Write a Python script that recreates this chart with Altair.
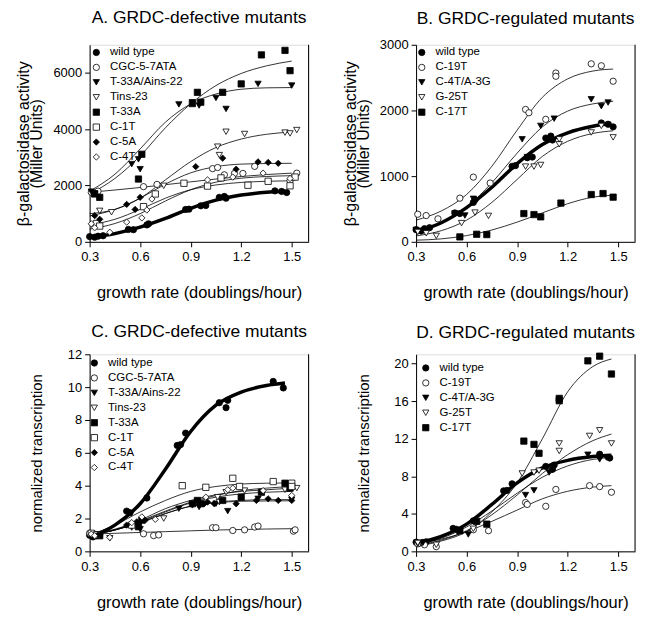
import altair as alt
import pandas as pd

FONT = "Liberation Sans"
W, H = 220, 198

# ---------- shared x grids for the fitted curves ----------
GRID = [0.3, 0.45, 0.6, 0.75, 0.9, 1.05, 1.2, 1.35, 1.5]
WT_GRID = [0.3, 0.45, 0.6, 0.75, 0.9, 1.05, 1.2, 1.35, 1.46]
B_GRID = [0.3, 0.45, 0.6, 0.75, 0.9, 1.05, 1.2, 1.35, 1.47]
D_GRID = [0.3, 0.45, 0.6, 0.75, 0.9, 1.05, 1.2, 1.35, 1.46]

# ---------- wild type (Miller units), panels A and B ----------
WT_MU_X = [0.30, 0.33, 0.35, 0.38, 0.53, 0.56, 0.64, 0.65, 0.87, 0.89, 0.96, 0.99, 1.07, 1.10, 1.11, 1.40, 1.44, 1.47]
WT_MU_Y = [185, 165, 200, 215, 440, 430, 600, 640, 1150, 1160, 1280, 1290, 1580, 1610, 1550, 1810, 1790, 1750]
WT_MU_CURVE = [150, 290, 520, 830, 1190, 1480, 1660, 1760, 1800]

# ---------- wild type (normalized), panels C and D ----------
WT_NT_X = [0.30, 0.32, 0.34, 0.36, 0.52, 0.54, 0.64, 0.82, 0.84, 0.87, 1.07, 1.11, 1.12, 1.39, 1.45]
WT_NT_Y = [0.98, 0.88, 0.95, 1.02, 2.45, 2.35, 3.25, 6.45, 6.5, 7.2, 9.05, 8.75, 9.2, 10.35, 9.95]
WT_NT_CURVE = [0.85, 1.6, 2.9, 5.0, 7.3, 8.9, 9.7, 10.1, 10.25]

# ---------- panel A ----------
A_SERIES = ["wild type", "CGC-5-7ATA", "T-33A/Ains-22", "Tins-23", "T-33A", "C-1T", "C-5A", "C-4T"]
A_PTS_X = {
    "CGC-5-7ATA": [0.31, 0.35, 0.62, 0.70, 1.03, 1.06, 1.10, 1.16, 1.21, 1.28, 1.49, 1.51, 1.53],
    "T-33A/Ains-22": [0.31, 0.33, 0.55, 0.59, 0.60, 0.83, 0.91, 0.95, 1.05, 1.11, 1.30, 1.50],
    "Tins-23": [0.36, 0.43, 0.74, 1.06, 1.07, 1.11, 1.22, 1.46, 1.49, 1.53],
    "T-33A": [0.33, 0.36, 0.59, 0.61, 0.91, 0.94, 0.96, 1.09, 1.20, 1.32, 1.46, 1.49],
    "C-1T": [0.34, 0.36, 0.62, 0.69, 0.86, 1.00, 1.08, 1.24, 1.36, 1.49, 1.52],
    "C-5A": [0.33, 0.36, 0.52, 0.57, 0.60, 0.93, 1.09, 1.17, 1.30, 1.36, 1.42],
    "C-4T": [0.31, 0.33, 0.42, 0.52, 0.61, 0.64, 0.67, 1.00, 1.15, 1.33, 1.49],
}
A_PTS_Y = {
    "CGC-5-7ATA": [1760, 1800, 1960, 2040, 2600, 2640, 2380, 2430, 2430, 2680, 2170, 2290, 2440],
    "T-33A/Ains-22": [1780, 1720, 2760, 2930, 2580, 4880, 4960, 4840, 5110, 4720, 5610, 5550],
    "Tins-23": [1100, 1050, 1990, 3380, 3080, 3910, 3830, 3880, 3850, 3970],
    "T-33A": [1700, 1580, 2230, 3110, 4910, 5310, 4960, 5310, 5610, 6640, 6800, 6080],
    "C-1T": [650, 560, 1250, 1700, 2080, 1980, 2270, 2010, 2150, 1990, 2300],
    "C-5A": [930, 800, 1330, 1150, 1580, 2670, 2970, 2580, 2840, 2820, 2790],
    "C-4T": [640, 500, 340, 700, 850, 1130, 1520, 2200, 2300, 2440, 2250],
}
A_CURVES = {
    "CGC-5-7ATA": [1760, 1840, 1930, 2030, 2130, 2230, 2320, 2390, 2440],
    "T-33A/Ains-22": [1800, 2400, 3300, 4250, 4900, 5250, 5420, 5470, 5480],
    "Tins-23": [1000, 1150, 1550, 2200, 2850, 3350, 3650, 3820, 3900],
    "T-33A": [1700, 2250, 3050, 4050, 4900, 5550, 5980, 6250, 6420],
    "C-1T": [600, 800, 1150, 1550, 1850, 2020, 2110, 2150, 2170],
    "C-5A": [920, 1150, 1550, 2050, 2450, 2670, 2760, 2780, 2790],
    "C-4T": [450, 650, 1000, 1450, 1850, 2120, 2260, 2320, 2350],
}

# ---------- panel B ----------
B_SERIES = ["wild type", "C-19T", "C-4T/A-3G", "G-25T", "C-17T"]
B_PTS_X = {
    "C-19T": [0.31, 0.36, 0.43, 0.56, 0.64, 0.74, 0.95, 0.97, 1.07, 1.13, 1.13, 1.34, 1.40, 1.47],
    "C-4T/A-3G": [0.30, 0.33, 0.53, 0.59, 0.64, 0.93, 0.96, 1.04, 1.12, 1.34, 1.40, 1.44],
    "G-25T": [0.31, 0.36, 0.42, 0.57, 0.65, 0.73, 0.95, 1.00, 1.04, 1.15, 1.15, 1.34, 1.40, 1.47],
    "C-17T": [0.56, 0.66, 0.72, 0.94, 1.00, 1.04, 1.16, 1.34, 1.41, 1.47],
}
B_PTS_Y = {
    "C-19T": [420, 400, 350, 665, 985, 895, 2015, 1965, 1865, 2570, 2520, 2710, 2680, 2445],
    "C-4T/A-3G": [180, 160, 430, 400, 655, 1560, 1290, 1765, 1875, 2170, 2065, 2120],
    "G-25T": [150, 130, 90, 285, 445, 395, 1145, 1145, 1170, 1485, 1560, 1665, 1765, 1590],
    "C-17T": [75, 115, 110, 430, 415, 380, 590, 720, 735, 680],
}
B_CURVES = {
    "C-19T": [330, 470, 720, 1150, 1700, 2200, 2480, 2600, 2630],
    "C-4T/A-3G": [170, 290, 530, 900, 1350, 1750, 1990, 2100, 2140],
    "G-25T": [90, 170, 330, 600, 950, 1300, 1530, 1650, 1690],
    "C-17T": [25, 45, 95, 180, 300, 440, 580, 680, 710],
}

# ---------- panel C ----------
C_SERIES = A_SERIES
C_PTS_X = {
    "CGC-5-7ATA": [0.30, 0.33, 0.62, 0.68, 0.71, 1.03, 1.05, 1.15, 1.22, 1.28, 1.30, 1.51, 1.52],
    "T-33A/Ains-22": [0.31, 0.34, 0.55, 0.59, 0.60, 0.83, 0.91, 0.95, 1.05, 1.12, 1.30, 1.50],
    "Tins-23": [0.34, 0.42, 0.74, 1.06, 1.07, 1.11, 1.22, 1.46, 1.49, 1.53],
    "T-33A": [0.33, 0.36, 0.59, 0.61, 0.91, 0.94, 0.96, 1.09, 1.20, 1.32, 1.46, 1.49],
    "C-1T": [0.31, 0.34, 0.55, 0.85, 0.99, 1.15, 1.19, 1.39, 1.50, 1.50],
    "C-5A": [0.32, 0.35, 0.52, 0.58, 0.63, 0.98, 1.00, 1.04, 1.17, 1.29, 1.36, 1.42, 1.50],
    "C-4T": [0.31, 0.33, 0.42, 0.55, 0.61, 0.69, 0.99, 1.12, 1.15, 1.33, 1.50],
}
C_PTS_Y = {
    "CGC-5-7ATA": [1.1, 1.05, 1.07, 0.96, 1.0, 1.44, 1.44, 1.27, 1.31, 1.48, 1.54, 1.23, 1.31],
    "T-33A/Ains-22": [0.9, 1.0, 1.45, 1.55, 1.35, 2.6, 2.8, 2.7, 2.9, 2.45, 3.2, 3.15],
    "Tins-23": [1.0, 0.8, 2.0, 3.3, 3.0, 3.6, 3.7, 3.75, 3.8, 3.85],
    "T-33A": [1.0, 0.95, 1.5, 1.9, 2.9, 3.1, 2.9, 3.1, 3.3, 3.6, 4.15, 3.85],
    "C-1T": [1.1, 1.0, 1.6, 4.0, 3.9, 4.45, 3.95, 4.25, 4.15, 3.95],
    "C-5A": [0.95, 1.0, 1.6, 1.8, 1.9, 2.9, 3.0, 2.9, 2.9, 3.1, 3.2, 3.1, 3.1],
    "C-4T": [1.05, 0.95, 0.85, 1.75, 2.1, 1.95, 3.3, 3.75, 3.85, 3.7, 3.4],
}
C_CURVES = {
    "C-1T": [1.0, 1.6, 2.4, 3.1, 3.65, 3.95, 4.1, 4.15, 4.17],
    "Tins-23": [1.0, 1.3, 1.9, 2.6, 3.1, 3.45, 3.65, 3.75, 3.85],
    "T-33A": [1.0, 1.35, 1.85, 2.45, 3.0, 3.4, 3.7, 3.85, 3.95],
    "C-4T": [1.0, 1.3, 1.8, 2.4, 2.95, 3.3, 3.5, 3.6, 3.65],
    "T-33A/Ains-22": [1.0, 1.3, 1.75, 2.3, 2.75, 3.0, 3.1, 3.15, 3.15],
    "C-5A": [1.0, 1.3, 1.75, 2.3, 2.75, 2.95, 3.05, 3.07, 3.08],
    "CGC-5-7ATA": [1.05, 1.1, 1.15, 1.2, 1.25, 1.3, 1.33, 1.36, 1.38],
}

# ---------- panel D ----------
D_SERIES = B_SERIES
D_PTS_X = {
    "C-19T": [0.31, 0.35, 0.42, 0.64, 0.73, 0.95, 0.96, 1.07, 1.13, 1.33, 1.39, 1.46],
    "C-4T/A-3G": [0.31, 0.34, 0.61, 0.95, 1.00, 1.09, 1.12, 1.32, 1.39, 1.43],
    "G-25T": [0.31, 0.42, 0.64, 0.93, 1.00, 1.03, 1.15, 1.15, 1.33, 1.39, 1.46],
    "C-17T": [0.56, 0.66, 0.72, 0.94, 1.00, 1.03, 1.15, 1.15, 1.32, 1.39, 1.46],
}
D_PTS_Y = {
    "C-19T": [0.8, 0.7, 0.5, 2.3, 2.2, 5.2, 5.0, 4.8, 6.6, 7.0, 6.9, 6.3],
    "C-4T/A-3G": [0.8, 0.9, 1.8, 6.0, 6.5, 8.4, 9.1, 10.3, 9.8, 10.0],
    "G-25T": [0.9, 0.7, 2.4, 8.3, 8.4, 8.6, 11.5, 10.7, 12.3, 12.9, 11.5],
    "C-17T": [2.2, 3.2, 2.9, 11.75, 11.4, 10.45, 16.3, 16.05, 20.3, 20.8, 18.9],
}
D_CURVES = {
    "C-19T": [0.8, 1.3, 2.1, 3.2, 4.4, 5.6, 6.4, 6.85, 7.0],
    "C-4T/A-3G": [0.75, 1.4, 2.6, 4.3, 6.2, 7.9, 9.1, 9.8, 10.0],
    "G-25T": [0.65, 1.2, 2.2, 3.9, 6.0, 8.3, 10.3, 11.8, 12.5],
    "C-17T": [0.55, 1.1, 2.1, 4.2, 7.3, 12.0, 17.0, 19.7, 20.5],
}

SHAPES8 = ["circle", "circle", "triangle-down", "triangle-down", "square", "square", "diamond", "diamond"]
FILLS8 = ["black", "white", "black", "white", "black", "white", "black", "white"]
SHAPES5 = SHAPES8[:5]
FILLS5 = FILLS8[:5]

X_TICKS = [0.3, 0.6, 0.9, 1.2, 1.5]
MU_TITLE = ["β-galactosidase activity", "(Miller Units)"]
NT_TITLE = ["", "normalized transcription"]


def panel(title, series, shapes, fills, pts_x, pts_y, curves, grid,
          wt_x, wt_y, wt_curve, ydom, yticks, ytitle, ytitle_size,
          leg_x, leg_y, title_offset):
    prow, crow = [], []
    for xv, yv in zip(wt_x, wt_y):
        prow.append({"x": xv, "y": yv, "s": "wild type"})
    for s in series[1:]:
        for xv, yv in zip(pts_x[s], pts_y[s]):
            prow.append({"x": xv, "y": yv, "s": s})
        for xv, yv in zip(grid, curves[s]):
            crow.append({"x": xv, "y": yv, "s": s})
    wrow = [{"x": xv, "y": yv} for xv, yv in zip(WT_GRID, wt_curve)]
    pts = pd.DataFrame(prow)
    cur = pd.DataFrame(crow)
    wtc = pd.DataFrame(wrow)

    xs = alt.Scale(domain=[0.3, 1.6], nice=False, zero=False)
    ys = alt.Scale(domain=ydom, nice=False, zero=True)
    xax = alt.Axis(values=X_TICKS, tickCount=len(X_TICKS), format=".1f",
                   title="growth rate (doublings/hour)",
                   grid=False, tickSize=5, labelPadding=4, labelFontSize=13,
                   titleFontSize=16.5, titleFontWeight="normal", titlePadding=21,
                   minExtent=22, maxExtent=22, domainColor="black", tickColor="black",
                   labelColor="black", titleColor="black", labelFont=FONT, titleFont=FONT,
                   labelFlush=False, labelOverlap=False)
    yax = alt.Axis(values=yticks, tickCount=len(yticks), format="d", title=ytitle,
                   grid=False, tickSize=5,
                   labelPadding=3, labelFontSize=13, titleFontSize=ytitle_size,
                   titleLineHeight=13, titleFontWeight="normal", titlePadding=7,
                   minExtent=38, maxExtent=38, domainColor="black", tickColor="black",
                   labelColor="black", titleColor="black", labelFont=FONT, titleFont=FONT,
                   labelOverlap=False)

    legend = alt.Legend(title=None, orient="none", legendX=leg_x, legendY=leg_y,
                        labelFontSize=11.5, labelFont=FONT, labelColor="black",
                        symbolSize=40, symbolStrokeColor="black", symbolStrokeWidth=0.8,
                        rowPadding=2, labelOffset=8, padding=0)

    border = alt.Chart(pd.DataFrame({"k": [0]})).mark_rule(color="black", strokeWidth=1).encode(
        x=alt.value(W), y=alt.value(0), y2=alt.value(H))

    thin = alt.Chart(cur).mark_line(color="black", strokeWidth=0.8, interpolate="monotone").encode(
        x=alt.X("x:Q", scale=xs, axis=xax),
        y=alt.Y("y:Q", scale=ys, axis=yax),
        detail="s:N",
    )
    thick = alt.Chart(wtc).mark_line(color="black", strokeWidth=3.5, interpolate="monotone").encode(
        x=alt.X("x:Q", scale=xs), y=alt.Y("y:Q", scale=ys))

    points = alt.Chart(pts).mark_point(filled=True, strokeWidth=0.8, size=40, opacity=1).encode(
        x=alt.X("x:Q", scale=xs),
        y=alt.Y("y:Q", scale=ys),
        shape=alt.Shape("s:N", scale=alt.Scale(domain=series, range=shapes), legend=legend),
        fill=alt.Fill("s:N", scale=alt.Scale(domain=series, range=fills), legend=legend),
        stroke=alt.Stroke("s:N", scale=alt.Scale(domain=series, range=["black"] * len(series)),
                          legend=legend),
    )

    return alt.layer(border, thin, thick, points).properties(
        width=W, height=H,
        title=alt.TitleParams(title, fontSize=17.5, font=FONT, fontWeight="normal",
                              color="black", anchor="middle", frame="group",
                              offset=title_offset),
    )


pA = panel("A. GRDC-defective mutants", A_SERIES, SHAPES8, FILLS8, A_PTS_X, A_PTS_Y,
           A_CURVES, GRID, WT_MU_X, WT_MU_Y, WT_MU_CURVE, [0, 7000], [0, 2000, 4000, 6000],
           MU_TITLE, 16, 1, 2, 18)
pB = panel("B. GRDC-regulated mutants", B_SERIES, SHAPES5, FILLS5, B_PTS_X, B_PTS_Y,
           B_CURVES, B_GRID, WT_MU_X, WT_MU_Y, WT_MU_CURVE, [0, 3000], [0, 1000, 2000, 3000],
           MU_TITLE, 16, 0, 2, 11.5)
pC = panel("C. GRDC-defective mutants", C_SERIES, SHAPES8, FILLS8, C_PTS_X, C_PTS_Y,
           C_CURVES, GRID, WT_NT_X, WT_NT_Y, WT_NT_CURVE, [0, 12], [0, 2, 4, 6, 8, 10, 12],
           NT_TITLE, 15, -1, 3, 8)
pD = panel("D. GRDC-regulated mutants", D_SERIES, SHAPES5, FILLS5, D_PTS_X, D_PTS_Y,
           D_CURVES, D_GRID, WT_NT_X, WT_NT_Y, WT_NT_CURVE, [0, 21], [0, 4, 8, 12, 16, 20],
           NT_TITLE, 15, 4, 8, 9.5)

chart = alt.concat(pA, pB, pC, pD, columns=2, spacing={"row": 21, "column": 32}).resolve_scale(
    x="independent", y="independent", shape="independent", fill="independent",
    stroke="independent"
).resolve_legend(shape="independent", fill="independent", stroke="independent").properties(
    padding={"left": 7, "top": -1.5, "right": 5, "bottom": 0}
).configure_view(stroke=None).configure(font=FONT)

chart.save("out.html", embed_options={"renderer": "svg", "actions": False})
